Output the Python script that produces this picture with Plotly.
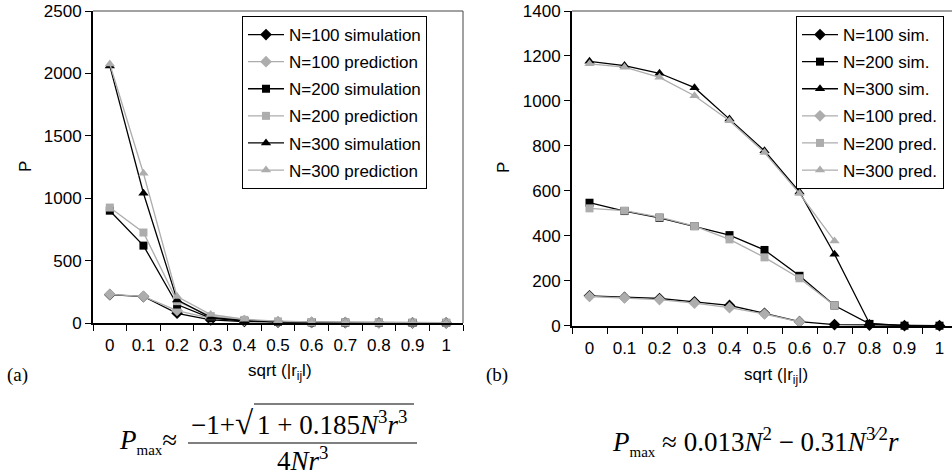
import plotly.graph_objects as go

W, H = 952, 476

r_values = [0, 0.1, 0.2, 0.3, 0.4, 0.5, 0.6, 0.7, 0.8, 0.9, 1.0]
tick_labels = ["0", "0.1", "0.2", "0.3", "0.4", "0.5", "0.6", "0.7", "0.8", "0.9", "1"]

# Panel (a)
a_sim100 = [227, 212, 78, 25, 12, 6, 4, 3, 2, 1, 1]
a_pred100 = [230, 214, 100, 38, 20, 12, 7, 5, 3, 2, 2]
a_sim200 = [900, 620, 148, 40, 16, 8, 5, 3, 2, 1, 1]
a_pred200 = [925, 725, 175, 55, 25, 13, 8, 5, 4, 3, 2]
a_sim300 = [2060, 1040, 185, 45, 18, 9, 5, 3, 2, 1, 1]
a_pred300 = [2075, 1200, 212, 68, 30, 15, 9, 6, 4, 3, 2]

# Panel (b)
b_sim100 = [133, 126, 121, 106, 90, 55, 18, 5, 3, 0, 0]
b_sim200 = [547, 510, 480, 443, 403, 337, 222, 90, 8, 0, 0]
b_sim300 = [1176, 1157, 1123, 1059, 919, 778, 595, 318, 10, 0, 0]
b_pred100 = [130, 124, 116, 100, 80, 52, 17, None, None, None, None]
b_pred200 = [522, 512, 483, 443, 384, 304, 211, 90, None, None, None]
b_pred300 = [1165, 1150, 1105, 1023, 912, 770, 588, 377, None, None, None]

a_ticks = [0, 500, 1000, 1500, 2000, 2500]
b_ticks = [0, 200, 400, 600, 800, 1000, 1200, 1400]

BLACK = "#000000"
GRAY = "#adadad"
SANS = "Liberation Sans, Arial, sans-serif"
SERIF = "Liberation Serif, Times New Roman, serif"

SYM = {100: "diamond", 200: "square", 300: "triangle-up"}
SIZE = {100: 9, 200: 8, 300: 9}

# category boundaries (Excel-style ticks between categories)
half = (r_values[1] - r_values[0]) / 2
boundaries = [v - half for v in r_values] + [r_values[-1] + half]

fig = go.Figure()


def add(vals, n, color, name, xa, ya, legend):
    fig.add_trace(go.Scatter(
        x=r_values, y=vals, name=name, mode="lines+markers",
        line=dict(color=color, width=1.3),
        marker=dict(symbol=SYM[n], size=SIZE[n], color=color),
        xaxis=xa, yaxis=ya, legend=legend, legendgroup=name, cliponaxis=False,
        connectgaps=False,
    ))


add(a_sim100, 100, BLACK, "N=100 simulation", "x", "y", "legend")
add(a_pred100, 100, GRAY, "N=100 prediction", "x", "y", "legend")
add(a_sim200, 200, BLACK, "N=200 simulation", "x", "y", "legend")
add(a_pred200, 200, GRAY, "N=200 prediction", "x", "y", "legend")
add(a_sim300, 300, BLACK, "N=300 simulation", "x", "y", "legend")
add(a_pred300, 300, GRAY, "N=300 prediction", "x", "y", "legend")

add(b_sim100, 100, BLACK, "N=100 sim.", "x2", "y2", "legend2")
add(b_sim200, 200, BLACK, "N=200 sim.", "x2", "y2", "legend2")
add(b_sim300, 300, BLACK, "N=300 sim.", "x2", "y2", "legend2")
add(b_pred100, 100, GRAY, "N=100 pred.", "x2", "y2", "legend2")
add(b_pred200, 200, GRAY, "N=200 pred.", "x2", "y2", "legend2")
add(b_pred300, 300, GRAY, "N=300 pred.", "x2", "y2", "legend2")


def px_x(v):
    return v / W


def px_y(v):
    return 1 - v / H


xcommon = dict(
    type="linear", tickmode="array", tickvals=r_values, ticktext=tick_labels,
    ticks="", showline=True, linecolor=BLACK, linewidth=2,
    minor=dict(tickmode="array", tickvals=boundaries, ticks="outside", ticklen=6,
               tickwidth=1, tickcolor=BLACK, showgrid=False),
    showgrid=False, zeroline=False, tickfont=dict(family=SANS, size=17, color=BLACK),
    ticklabelstandoff=6, fixedrange=True, automargin=False,
)
ycommon = dict(
    ticks="outside", ticklen=6, tickwidth=1, tickcolor=BLACK,
    showline=True, linecolor=BLACK, linewidth=2, showgrid=False,
    zeroline=False, tickfont=dict(family=SANS, size=17, color=BLACK),
    ticklabelstandoff=0, fixedrange=True, automargin=False,
)

dx = r_values[1] - r_values[0]
legend_common = dict(
    xanchor="left", yanchor="top", bgcolor="white", bordercolor=BLACK, borderwidth=1,
    font=dict(family=SANS, size=17, color=BLACK), itemwidth=36,
    traceorder="grouped", tracegroupgap=2, itemclick=False, itemdoubleclick=False,
)
fig.update_layout(
    width=W, height=H,
    margin=dict(l=0, r=0, t=0, b=0, pad=0, autoexpand=False),
    paper_bgcolor="white", plot_bgcolor="white",
    font=dict(family=SANS, size=17, color=BLACK),
    xaxis=dict(xcommon, domain=[px_x(93), px_x(463)],
               range=[r_values[0] - half, r_values[-1] + half], anchor="y"),
    yaxis=dict(ycommon, domain=[px_y(323), px_y(11)], range=[0, 2500],
               tickvals=a_ticks, anchor="x"),
    xaxis2=dict(xcommon, domain=[px_x(572), 1.0],
                range=[r_values[0] - half, r_values[0] - half + dx * (952 - 572) / 35.0],
                anchor="y2"),
    yaxis2=dict(ycommon, domain=[px_y(325.7), px_y(11)], range=[0, 1400],
                tickvals=b_ticks, anchor="x2"),
    legend=dict(legend_common, x=px_x(242), y=px_y(16)),
    legend2=dict(legend_common, x=px_x(796), y=px_y(16)),
    showlegend=True,
)

shapes = [
    dict(type="line", xref="x domain", yref="y domain", x0=0, x1=1, y0=1, y1=1,
         line=dict(color="#444444", width=1), layer="below"),
    dict(type="line", xref="x domain", yref="y domain", x0=1, x1=1, y0=0, y1=1,
         line=dict(color="#444444", width=1), layer="below"),
    dict(type="line", xref="x2 domain", yref="y2 domain", x0=0, x1=1, y0=1, y1=1,
         line=dict(color="#444444", width=1), layer="below"),
    # formula (a): fraction bar and radical overline
    dict(type="line", xref="paper", yref="paper", x0=px_x(188), x1=px_x(417),
         y0=px_y(443), y1=px_y(443), line=dict(color=BLACK, width=1.2)),
    dict(type="line", xref="paper", yref="paper", x0=px_x(254), x1=px_x(414),
         y0=px_y(404), y1=px_y(404), line=dict(color=BLACK, width=1.2)),
]

ann = []


def text(x, y, s, size, family=SANS, xanchor="center", angle=0):
    ann.append(dict(x=px_x(x), y=px_y(y), xref="paper", yref="paper", text=s,
                    showarrow=False, xanchor=xanchor, yanchor="middle",
                    textangle=angle, font=dict(family=family, size=size, color=BLACK)))


MAX = "<sub><span style='font-size:15px'>max</span></sub>"

text(25, 167, "P", 17, angle=-90)
text(503, 168, "P", 17, angle=-90)
text(280, 372, "sqrt (|r<sub>ij</sub>l)", 17)
text(776, 376, "sqrt (|r<sub>ij</sub>|)", 17)
text(5, 375, "(a)", 19, family=SERIF, xanchor="left")
text(484, 375, "(b)", 19, family=SERIF, xanchor="left")

text(117, 441, "<i>P</i>" + MAX + "≈", 27, family=SERIF, xanchor="left")
text(256, 423, "−1+<span style='font-size:33px'>√</span>", 27, family=SERIF, xanchor="right")
text(255, 423, "1 + 0.185<i>N</i><sup>3</sup><i>r</i><sup>3</sup>", 27, family=SERIF, xanchor="left")
text(302, 459, "4<i>Nr</i><sup>3</sup>", 27, family=SERIF)
text(755, 441, "<i>P</i>" + MAX + " ≈ 0.013<i>N</i><sup>2</sup> − 0.31<i>N</i><sup>3⁄2</sup><i>r</i>",
     27, family=SERIF)

fig.update_layout(shapes=shapes, annotations=ann)

fig.write_html("out.html", config={"displayModeBar": False},
               post_script="document.body.style.margin='0';")
